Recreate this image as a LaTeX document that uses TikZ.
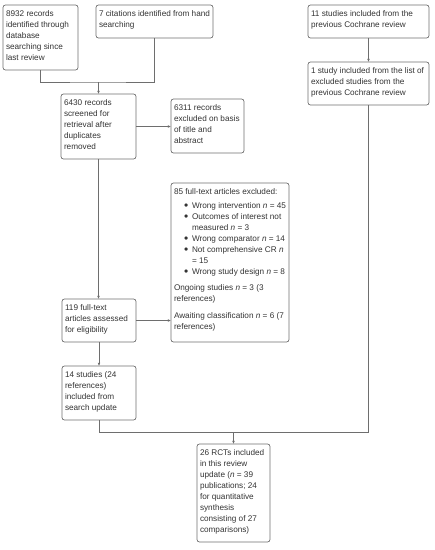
\documentclass[tikz,border=0pt]{standalone}
\usepackage{fontspec}
\setmainfont{Liberation Sans}
\usetikzlibrary{arrows.meta}
\definecolor{bordc}{HTML}{6E6E6E}
\definecolor{txtc}{HTML}{333333}
\definecolor{linec}{HTML}{6E6E6E}
\newcommand\pbx[3]{\parbox[c][\dimexpr #2pt-8pt\relax][t]{\dimexpr #1pt-6pt\relax}{\raggedright\strut #3}}
\newcommand\bul{\hspace*{10pt}\makebox[8pt][l]{\raisebox{-0.8pt}{\scalebox{1.45}{\textbullet}}}}
\begin{document}
\begin{tikzpicture}[x=1pt,y=-1pt,
  fbox/.style={draw=bordc, line width=0.7pt, rounded corners=2.5pt, inner xsep=3pt, inner ysep=4pt, outer sep=0pt, anchor=north west, text=txtc, font=\fontsize{8.2}{11}\selectfont},
  conn/.style={draw=linec, line width=0.8pt},
  arr/.style={conn, -{Latex[length=3.2pt,width=2.8pt]}}]
\useasboundingbox (0,0) rectangle (435,550);

\node[fbox] (A) at (3,5) {\pbx{75}{65}{8932 records\\identified through\\database\\searching since\\last review}};
\node[fbox] (B) at (96,5) {\pbx{117}{33}{7 citations identified from hand\\searching}};
\node[fbox] (E) at (308,5) {\pbx{121}{33}{11 studies included from the\\previous Cochrane review}};
\node[fbox] (F) at (308,62) {\pbx{121}{43}{1 study included from the list of\\excluded studies from the\\previous Cochrane review}};
\node[fbox] (C) at (61,94) {\pbx{75}{65}{6430 records\\screened for\\retrieval after\\duplicates\\removed}};
\node[fbox] (D) at (171,99) {\pbx{73}{54}{6311 records\\excluded on basis\\of title and\\abstract}};
\node[fbox] (G) at (171,183) {\pbx{118}{159}{85 full-text articles excluded:\\[3pt]
\bul Wrong intervention \textit{n} = 45\\
\bul Outcomes of interest not\\
\hspace*{18pt}measured \textit{n} = 3\\
\bul Wrong comparator \textit{n} = 14\\
\bul Not comprehensive CR \textit{n}\\
\hspace*{18pt}= 15\\
\bul Wrong study design \textit{n} = 8\\[5pt]
Ongoing studies \textit{n} = 3 (3\\
references)\\[6pt]
Awaiting classification \textit{n} = 6 (7\\
references)}};
\node[fbox] (H) at (62,299) {\pbx{74}{43}{119 full-text\\articles assessed\\for eligibility}};
\node[fbox] (I) at (62,366) {\pbx{74}{54}{14 studies (24\\references)\\included from\\search update}};
\node[fbox] (J) at (197,444) {\pbx{73}{98}{26 RCTs included\\in this review\\update (\textit{n} = 39\\publications; 24\\for quantitative\\synthesis\\consisting of 27\\comparisons)}};

\path (C.north) ++(0,-12) coordinate (m1);
\draw[conn] (A.south) |- (m1) -| (B.south);
\draw[arr] (m1) -- (C.north);
\draw[arr] (C.east) -- (C.east -| D.west);
\draw[arr] (E.south) -- (F.north);
\draw[arr] (C.south) -- (C.south |- H.north);
\draw[arr] (H.east) -- (H.east -| G.west);
\draw[arr] (H.south) -- (H.south |- I.north);
\path (I.south) ++(0,12) coordinate (m2);
\draw[conn] (I.south) -- (m2) -| (F.south);
\draw[arr] (m2 -| J.north) -- (J.north);
\end{tikzpicture}
\end{document}
